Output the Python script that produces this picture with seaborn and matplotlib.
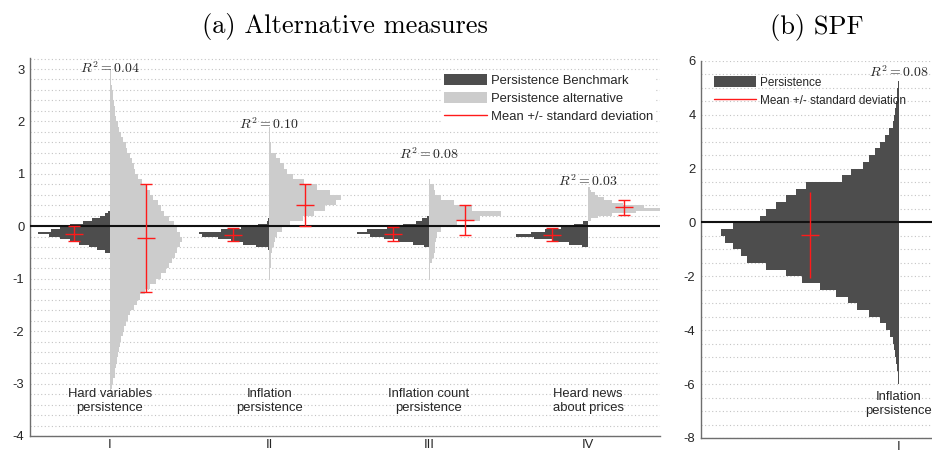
import numpy as np
import matplotlib
matplotlib.use("Agg")
import matplotlib.pyplot as plt
from matplotlib.patches import Patch
from matplotlib.lines import Line2D
from matplotlib.ticker import MultipleLocator, FixedLocator
import seaborn as sns

# ---------------------------------------------------------------- data
categories = ["Hard variables\npersistence", "Inflation\npersistence",
              "Inflation count\npersistence", "Heard news\nabout prices"]
tick_labels = ["I", "II", "III", "IV"]
r2_values = [0.04, 0.10, 0.08, 0.03]

# Histograms: lower edge of first bin, bin size, normalised bar lengths (bottom -> top)
bench_I_start, bench_I_step = -0.50, 0.05
bench_I = [0.03, 0.08, 0.13, 0.19, 0.25, 0.31, 0.38, 0.45, 0.37, 0.31,
           0.25, 0.17, 0.11, 0.06, 0.03, 0.01]
alt_I_start, alt_I_step = -3.20, 0.10
alt_I = [0.01, 0.015, 0.02, 0.03, 0.035, 0.04, 0.045, 0.05, 0.06, 0.065,
         0.07, 0.08, 0.09, 0.10, 0.115, 0.13, 0.15, 0.17, 0.19, 0.22,
         0.25, 0.29, 0.32, 0.35, 0.37, 0.39, 0.41, 0.42, 0.44, 0.45,
         0.44, 0.42, 0.40, 0.37, 0.34, 0.32, 0.30, 0.27, 0.25, 0.23,
         0.20, 0.18, 0.16, 0.15, 0.14, 0.13, 0.11, 0.10, 0.085, 0.07,
         0.055, 0.05, 0.04, 0.035, 0.03, 0.025, 0.02, 0.02, 0.015, 0.01,
         0.008, 0.005]

bench_II_start, bench_II_step = -0.45, 0.05
bench_II = [0.01, 0.085, 0.165, 0.24, 0.32, 0.42, 0.44, 0.30, 0.18, 0.07,
            0.015, 0.005]
alt_II_start, alt_II_step = -1.00, 0.10
alt_II = [0.005, 0.006, 0.008, 0.01, 0.012, 0.02, 0.03, 0.035, 0.05, 0.08,
          0.13, 0.21, 0.28, 0.35, 0.42, 0.45, 0.38, 0.30, 0.22, 0.15,
          0.11, 0.09, 0.07, 0.04, 0.01, 0.008, 0.005, 0.005, 0.004]

bench_III_start, bench_III_step = -0.40, 0.05
bench_III = [0.03, 0.10, 0.19, 0.28, 0.37, 0.45, 0.39, 0.26, 0.16, 0.08,
             0.04, 0.01]
alt_III_start, alt_III_step = -1.00, 0.10
alt_III = [0.005, 0.008, 0.01, 0.02, 0.03, 0.04, 0.04, 0.045, 0.05, 0.08,
           0.18, 0.32, 0.45, 0.27, 0.16, 0.08, 0.04, 0.03, 0.01]

bench_IV_start, bench_IV_step = -0.40, 0.05
bench_IV = [0.04, 0.12, 0.22, 0.34, 0.45, 0.36, 0.27, 0.17, 0.09, 0.03]
alt_IV_start, alt_IV_step = 0.10, 0.05
alt_IV = [0.02, 0.06, 0.15, 0.30, 0.45, 0.35, 0.22, 0.15, 0.10, 0.06,
          0.04, 0.02, 0.01]

# mean and standard deviation of each distribution
bench_mean = [-0.14, -0.16, -0.15, -0.16]
bench_sd = [0.14, 0.13, 0.13, 0.13]
alt_mean = [-0.23, 0.40, 0.12, 0.36]
alt_sd = [1.03, 0.40, 0.29, 0.14]

# SPF panel
spf_category = "Inflation\npersistence"
spf_tick_label = ["I"]
spf_r2 = 0.08
spf_start, spf_step = -6.00, 0.25
spf_hist = [0.002, 0.003, 0.005, 0.007, 0.009, 0.012, 0.016, 0.022, 0.032, 0.048,
            0.075, 0.105, 0.13, 0.16, 0.20, 0.245, 0.285, 0.335, 0.385, 0.40,
            0.42, 0.44, 0.45, 0.42, 0.35, 0.335, 0.31, 0.285, 0.26, 0.235,
            0.145, 0.12, 0.09, 0.075, 0.06, 0.048, 0.035, 0.025, 0.016, 0.012,
            0.009, 0.008, 0.006, 0.005, 0.003]
spf_mean = -0.46
spf_sd = 1.59

# ---------------------------------------------------------------- style
sns.set_theme(style="white")
plt.rcParams["font.family"] = ["Liberation Sans", "DejaVu Sans"]
plt.rcParams["mathtext.fontset"] = "cm"
plt.rcParams["axes.unicode_minus"] = False

DARK = "#4d4d4d"
LIGHT = "#cccccc"
RED = "#ff1a1a"
SPINE = "#6e6e6e"
TXT = "#262626"
FS = 9.4
ERR_OFF = 0.225

fig = plt.figure(figsize=(9.32, 4.54), dpi=100)
W, H = 932, 454
ax1 = fig.add_axes([30 / W, (H - 436) / H, 630 / W, (436 - 58) / H])
ax2 = fig.add_axes([701 / W, (H - 438) / H, 231 / W, (438 - 60.7) / H])


def draw_hist(ax, pos, start, step, lengths, side, color):
    lengths = np.asarray(lengths, dtype=float)
    centers = start + step * (np.arange(len(lengths)) + 0.5)
    ax.barh(centers, side * lengths, height=step, left=pos, color=color,
            linewidth=0, zorder=2)


def draw_err(ax, x, mean, sd, caps=True):
    ax.errorbar([x], [mean], yerr=[sd], fmt="none", ecolor=RED, elinewidth=1.0,
                capsize=4.5 if caps else 0, capthick=1.0, zorder=4)
    ax.plot([x], [mean], marker="_", markersize=13, markeredgewidth=1.0,
            color=RED, zorder=4)


def style_axes(ax, minor_step):
    for s in ["top", "right"]:
        ax.spines[s].set_visible(False)
    for s in ["left", "bottom"]:
        ax.spines[s].set_color(SPINE)
        ax.spines[s].set_linewidth(1.0)
    ax.yaxis.set_minor_locator(MultipleLocator(minor_step))
    ax.tick_params(axis="both", which="major", direction="in", length=4,
                   width=0.8, color=SPINE, labelsize=FS, labelcolor=TXT)
    ax.tick_params(axis="y", which="minor", direction="in", length=2.5,
                   width=0.6, color=SPINE)
    ax.tick_params(axis="y", which="major", pad=4)
    ax.tick_params(axis="x", which="major", pad=2.5)
    ax.grid(False)
    ax.yaxis.grid(True, which="both", linestyle=(0, (1, 2.2)), color="#c4c4c4",
                  linewidth=0.8, zorder=0)
    ax.set_axisbelow(True)


# ---------------------------------------------------------------- panel (a)
positions = [1, 2, 3, 4]
bench_sets = [(bench_I_start, bench_I_step, bench_I),
              (bench_II_start, bench_II_step, bench_II),
              (bench_III_start, bench_III_step, bench_III),
              (bench_IV_start, bench_IV_step, bench_IV)]
alt_sets = [(alt_I_start, alt_I_step, alt_I),
            (alt_II_start, alt_II_step, alt_II),
            (alt_III_start, alt_III_step, alt_III),
            (alt_IV_start, alt_IV_step, alt_IV)]
r2_y = [3.02, 1.95, 1.37, 0.86]

for i, pos in enumerate(positions):
    bs, bstep, bl = bench_sets[i]
    a_s, astep, al = alt_sets[i]
    draw_hist(ax1, pos, bs, bstep, bl, -1, DARK)
    draw_hist(ax1, pos, a_s, astep, al, +1, LIGHT)
    draw_err(ax1, pos - ERR_OFF, bench_mean[i], bench_sd[i])
    draw_err(ax1, pos + ERR_OFF, alt_mean[i], alt_sd[i])
    ax1.text(pos, r2_y[i], rf"$R^2 = {r2_values[i]:.2f}$", ha="center",
             va="center", fontsize=10, color=TXT, zorder=5)
    ax1.text(pos, -3.33, categories[i], ha="center", va="center", fontsize=FS,
             color=TXT, linespacing=1.25, zorder=5)

ax1.axhline(0, color="#111111", linewidth=1.5, zorder=3)
ax1.set_xlim(0.5, 4.45)
ax1.set_ylim(-4, 3.21)
ax1.xaxis.set_major_locator(FixedLocator(positions))
ax1.set_xticklabels(tick_labels)
ax1.set_yticks(np.arange(-4, 4, 1))
style_axes(ax1, 0.2)
ax1.set_title("(a) Alternative measures", fontfamily="cmr10", fontsize=19,
              color="black", pad=18)

handles1 = [Patch(facecolor=DARK, edgecolor="none"),
            Patch(facecolor=LIGHT, edgecolor="none"),
            Line2D([0], [0], color=RED, lw=1.0)]
leg1 = ax1.legend(handles1, ["Persistence Benchmark", "Persistence alternative",
                             "Mean +/- standard deviation"],
                  loc="upper right", bbox_to_anchor=(0.992, 0.962),
                  fontsize=FS, frameon=True, facecolor="white", edgecolor="none",
                  framealpha=1, fancybox=False, borderpad=0.1,
                  handlelength=3.3, handleheight=1.0, handletextpad=0.35,
                  labelspacing=0.35, borderaxespad=0)
for t in leg1.get_texts():
    t.set_color(TXT)

# ---------------------------------------------------------------- panel (b)
draw_hist(ax2, 1, spf_start, spf_step, spf_hist, -1, DARK)
draw_err(ax2, 1 - ERR_OFF, spf_mean, spf_sd, caps=False)
ax2.axhline(0, color="#111111", linewidth=1.5, zorder=3)
ax2.text(1, 5.58, rf"$R^2 = {spf_r2:.2f}$", ha="center", va="center",
         fontsize=10, color=TXT, zorder=5)
ax2.text(1, -6.75, spf_category, ha="center", va="center", fontsize=FS,
         color=TXT, linespacing=1.25, zorder=5)
ax2.set_xlim(0.5, 1.0834)
ax2.set_ylim(-8, 6)
ax2.xaxis.set_major_locator(FixedLocator([1]))
ax2.set_xticklabels(spf_tick_label)
ax2.set_yticks(np.arange(-8, 7, 2))
style_axes(ax2, 0.5)
ax2.set_title("(b) SPF", fontfamily="cmr10", fontsize=19, color="black", pad=19)

handles2 = [Patch(facecolor=DARK, edgecolor="none"),
            Line2D([0], [0], color=RED, lw=1.0)]
leg2 = ax2.legend(handles2, ["Persistence", "Mean +/- standard deviation"],
                  loc="upper left", bbox_to_anchor=(0.05, 0.963), fontsize=8.5,
                  frameon=False, borderpad=0.1, handlelength=3.6,
                  handleheight=1.1, handletextpad=0.35, labelspacing=0.5,
                  borderaxespad=0)
for t in leg2.get_texts():
    t.set_color(TXT)

fig.savefig("out.png", dpi=100)
